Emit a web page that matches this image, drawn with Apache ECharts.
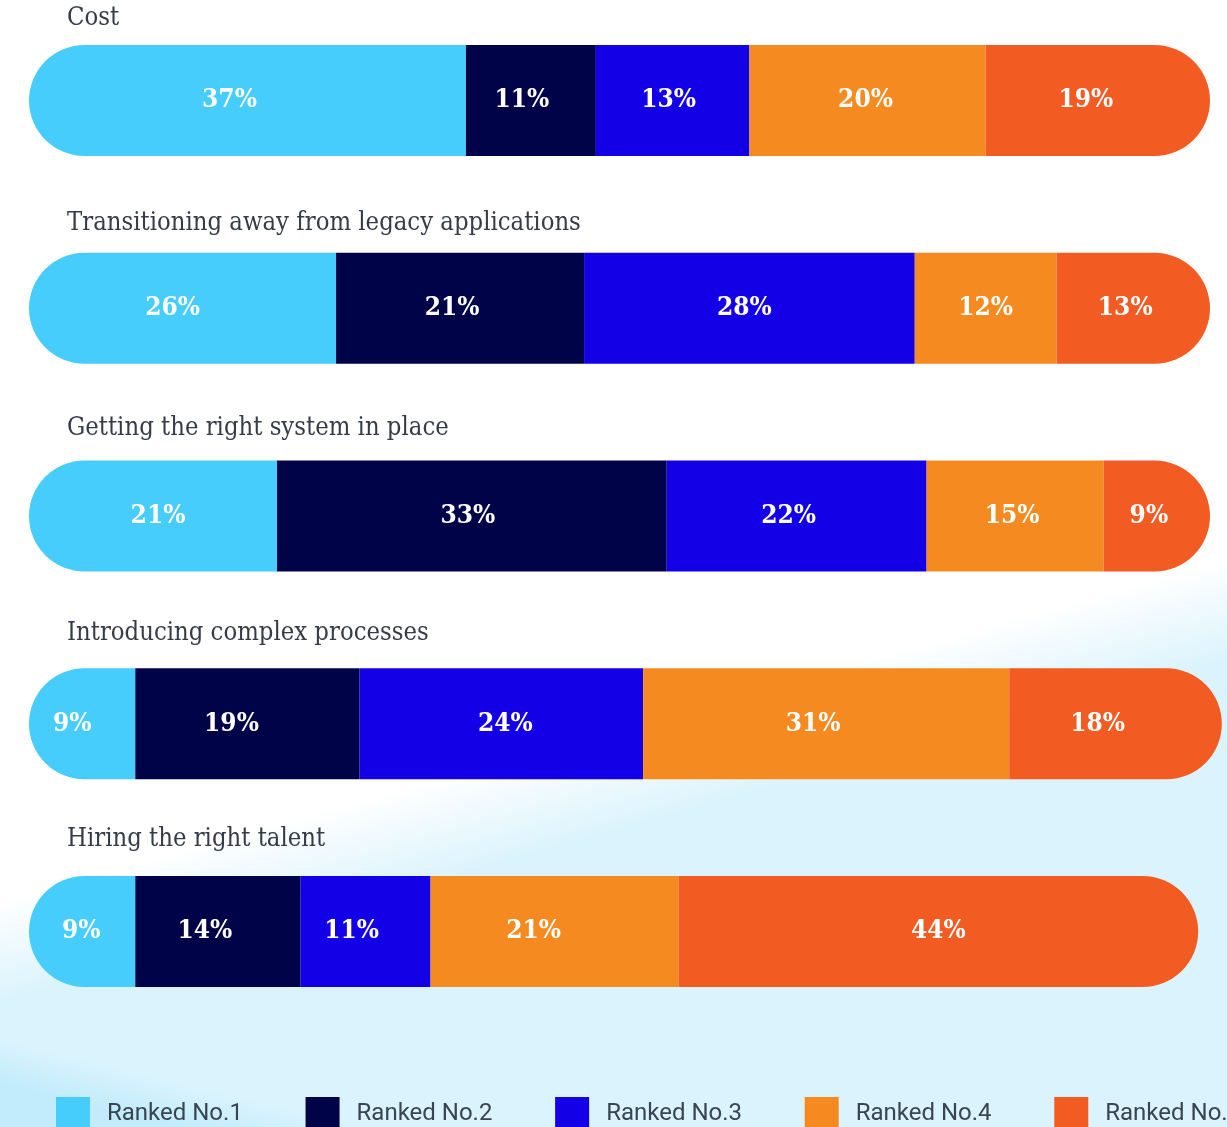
<!DOCTYPE html>
<html>
<head>
<meta charset="utf-8">
<script src="https://cdn.jsdelivr.net/npm/echarts@6/dist/echarts.min.js"></script>
<style>
  html, body { margin: 0; padding: 0; background: #fff; }
  #main { width: 1227px; height: 1127px; }
</style>
</head>
<body>
<div id="main"></div>
<script>
// challenges, top to bottom
var categories = [
  "Cost",
  "Transitioning away from legacy applications",
  "Getting the right system in place",
  "Introducing complex processes",
  "Hiring the right talent"
];
var rankNames = ["Ranked No.1", "Ranked No.2", "Ranked No.3", "Ranked No.4", "Ranked No.5"];
var rank1 = [37, 26, 21, 9, 9];
var rank2 = [11, 21, 33, 19, 14];
var rank3 = [13, 28, 22, 24, 11];
var rank4 = [20, 12, 15, 31, 21];
var rank5 = [19, 13, 9, 18, 44];
var colors = ["#47cdfb", "#000347", "#1400e6", "#f58b20", "#f25c22"];

// small horizontal nudges of the % labels (px), as placed in the original
var labelNudge = [
  [-18, -10, 5, -10, -1],
  [-9, -8, -4, -16, -13],
  [-4, -5, -8, 4, -14],
  [-2, 0, -3, -13, -21],
  [-12, -8, -8, -18, 0]
];

var slab = "DejaVu Serif Condensed, DejaVu Serif";

var chart = echarts.init(document.getElementById("main"));
var seriesValues = [rank1, rank2, rank3, rank4, rank5];
var r = 55.5;

var series = [];
for (var i = 0; i < seriesValues.length; i++) {
  var radius = 0;
  if (i === 0) radius = [r, 0, 0, r];
  if (i === seriesValues.length - 1) radius = [0, r, r, 0];
  var items = seriesValues[i].map(function (v, j) {
    return { value: v, label: { offset: [labelNudge[i][j], 0] } };
  });
  series.push({
    name: rankNames[i],
    type: "bar",
    stack: "total",
    barWidth: 111,
    clip: false,
    data: items,
    itemStyle: { color: colors[i], borderRadius: radius },
    label: {
      show: true,
      position: "inside",
      formatter: "{c}%",
      color: "#fff",
      fontFamily: slab,
      fontWeight: "bold",
      fontSize: 26
    },
    emphasis: { disabled: true }
  });
}

var option = {
  animation: false,
  backgroundColor: "#fff",
  graphic: [
    {
      type: "rect",
      z: -10,
      silent: true,
      shape: { x: 0, y: 0, width: 1227, height: 1127 },
      style: {
        fill: new echarts.graphic.LinearGradient(597, 734, 624, 831, [
          { offset: 0, color: "#ffffff" },
          { offset: 1, color: "#daf3fc" }
        ], true)
      }
    },
    {
      type: "polygon",
      z: -9,
      silent: true,
      shape: { points: [[0, 1040], [360, 1127], [0, 1127]] },
      style: {
        fill: new echarts.graphic.LinearGradient(100, 1064, 90, 1105, [
          { offset: 0, color: "rgba(194,236,252,0)" },
          { offset: 1, color: "rgba(194,236,252,1)" }
        ], true)
      }
    }
  ],
  legend: {
    data: rankNames,
    left: 56,
    top: 1097,
    padding: 0,
    width: 1500,
    itemWidth: 34,
    itemHeight: 34,
    itemGap: 62.7,
    icon: "rect",
    selectedMode: false,
    textStyle: {
      fontFamily: "Roboto",
      fontSize: 24,
      color: "#3a4552",
      padding: [0, 0, 0, 12]
    }
  },
  grid: { left: 29, top: 100.5, width: 1181, height: 831 },
  xAxis: { type: "value", min: 0, max: 100, show: false },
  yAxis: {
    type: "category",
    inverse: true,
    boundaryGap: false,
    data: categories,
    show: false
  },
  series: series
};
chart.setOption(option);

// category titles sit above each bar, placed through the y axis scale
var titles = categories.map(function (name, k) {
  var y = chart.convertToPixel({ yAxisIndex: 0 }, name);
  return {
    type: "text",
    silent: true,
    x: 67,
    y: y - 82.5 - 2.5 * k,
    style: {
      text: name,
      fontFamily: slab,
      fontSize: 25.4,
      fill: "#353c48",
      verticalAlign: "middle",
      align: "left"
    }
  };
});
chart.setOption({ graphic: option.graphic.concat(titles) });
</script>
</body>
</html>
